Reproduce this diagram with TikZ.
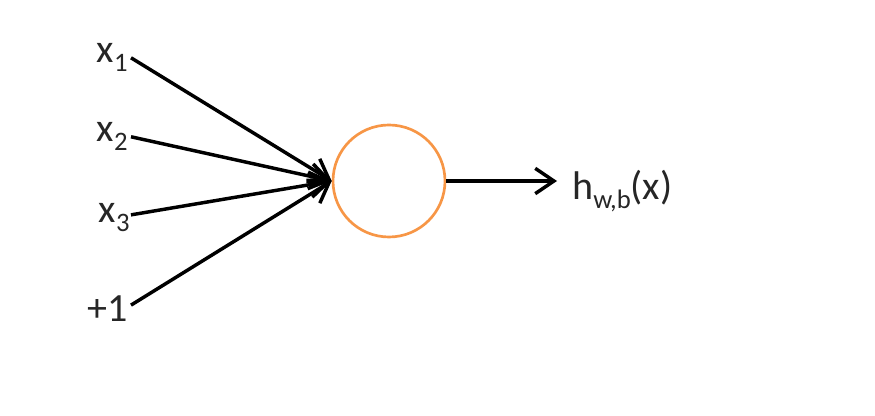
\documentclass[tikz,border=0pt]{standalone}
\usepackage{fontspec}
\setmainfont{Carlito}
\usepackage{tikz}
\usetikzlibrary{arrows.meta}
\usetikzlibrary{calc}

\definecolor{unitorange}{RGB}{247,150,70}
\newcommand{\lowsub}[1]{\raisebox{-6.5pt}{\fontsize{20}{20}\selectfont #1}}

\begin{document}
\begin{tikzpicture}[x=0.75pt,y=-0.75pt,
        lbl/.style={inner sep=0pt, text=black!85, font=\fontsize{30}{34}\selectfont},
        wire/.style={line width=2.6pt, -{Straight Barb[length=14pt,width=19pt,line width=2.6pt]}}]
        \useasboundingbox (0,0) rectangle (875,416);

        \node[lbl, anchor=base east] (x1) at (128,63) {x\lowsub{1}};
        \node[lbl, anchor=base east] (x2) at (128,142) {x\lowsub{2}};
        \node[lbl, anchor=base east] (x3) at (130,223) {x\lowsub{3}};
        \node[lbl, anchor=base east] (one) at (128,322) {+1};

        \node[circle, draw=unitorange, line width=2pt, minimum size=84pt, inner sep=0pt] (unit) at (389,181) {};

        \node[lbl, anchor=base west] (out) at (572,200) {h\lowsub{w,b}(x)};
        \coordinate (tip) at (557,181);

        \draw[wire] ($(x1.east)+(3,0)$) -- (unit.west);
        \draw[wire] ($(x2.east)+(3,0)$) -- (unit.west);
        \draw[wire] ($(x3.east)+(1,-3)$) -- (unit.west);
        \draw[wire] ($(one.east)+(3,-4)$) -- (unit.west);

        \draw[wire] (unit.east) -- (tip);
    \end{tikzpicture}
\end{document}
